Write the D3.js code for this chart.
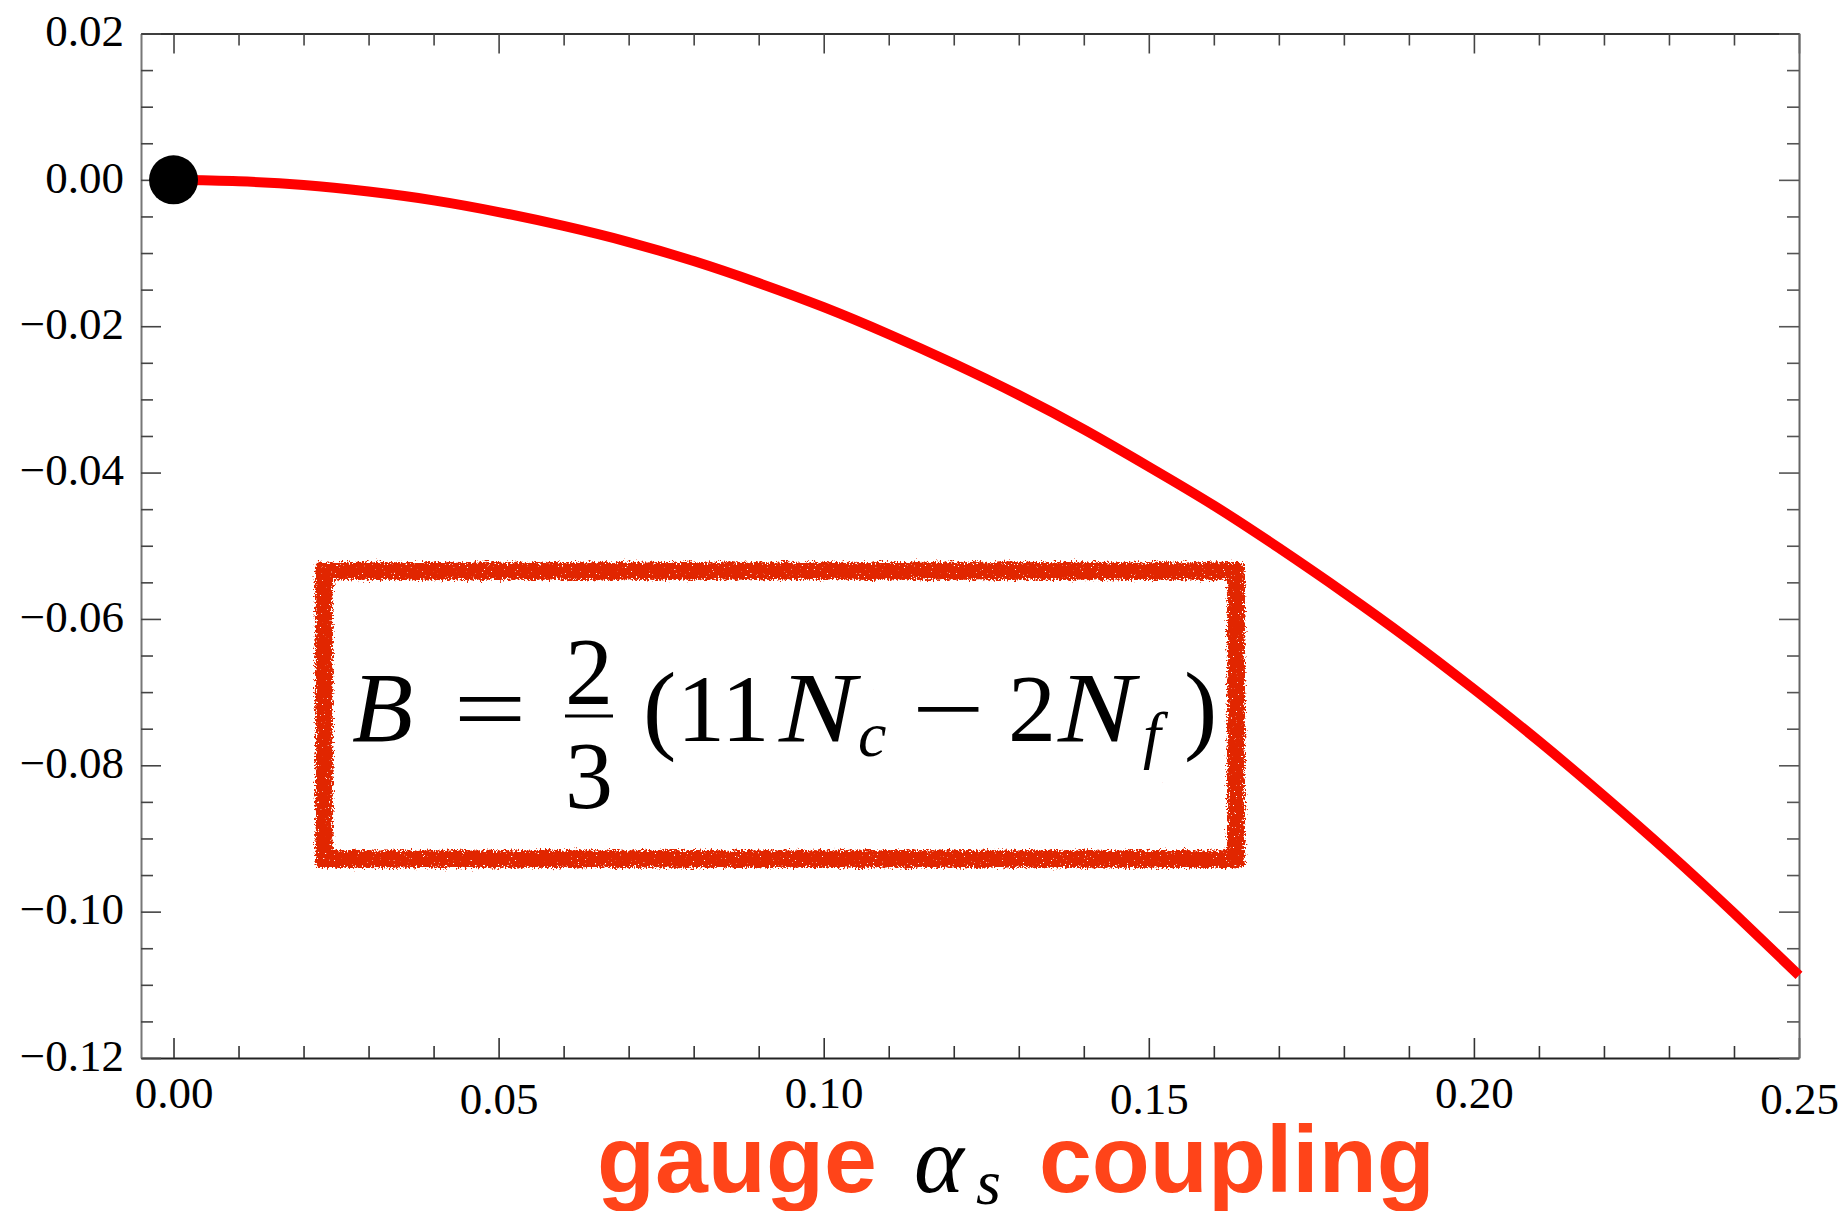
<!DOCTYPE html>
<html>
<head>
<meta charset="utf-8">
<script src="https://cdn.jsdelivr.net/npm/d3@7"></script>
<style>
  html, body { margin: 0; padding: 0; background: #fff; }
  svg { display: block; }
</style>
</head>
<body>
<svg id="chart" width="1846" height="1211"></svg>
<script>
// Running-coupling correction versus the gauge coupling alpha_s
const alphaValues = [0.00, 0.01, 0.02, 0.03, 0.04, 0.05, 0.06, 0.07, 0.08, 0.09,
                     0.10, 0.11, 0.12, 0.13, 0.14, 0.15, 0.16, 0.17, 0.18, 0.19,
                     0.20, 0.21, 0.22, 0.23, 0.24, 0.25];
const curveValues = [0.0000, -0.0002, -0.0007, -0.0016, -0.0028, -0.0044, -0.0063, -0.0085, -0.0111, -0.0141,
                     -0.0174, -0.0211, -0.0251, -0.0294, -0.0341, -0.0392, -0.0445, -0.0503, -0.0564, -0.0628,
                     -0.0696, -0.0767, -0.0842, -0.0920, -0.1002, -0.1087];

// Fixed point at the origin
const fixedPointAlpha = [0.00];
const fixedPointValue = [0.00];

// Axis ticks and labels
const xMajorTicks = [0.00, 0.05, 0.10, 0.15, 0.20, 0.25];
const xTickLabels = ["0.00", "0.05", "0.10", "0.15", "0.20", "0.25"];
const yMajorTicks = [0.02, 0.00, -0.02, -0.04, -0.06, -0.08, -0.10, -0.12];
const yTickLabels = ["0.02", "0.00", "\u22120.02", "\u22120.04", "\u22120.06", "\u22120.08", "\u22120.10", "\u22120.12"];

const xDomain = [-0.005, 0.25];
const yDomain = [-0.12, 0.02];

const svg = d3.select("#chart");
const plotLeft = 141, plotRight = 1799, plotTop = 33.5, plotBottom = 1058;

const x = d3.scaleLinear().domain(xDomain).range([plotLeft, plotRight]);
const y = d3.scaleLinear().domain(yDomain).range([plotBottom, plotTop]);

const xMinor = d3.range(0, 0.2501, 0.01).filter(v => !xMajorTicks.some(m => Math.abs(m - v) < 1e-9));
const yMinor = d3.range(-0.12, 0.0201, 0.005).filter(v => !yMajorTicks.some(m => Math.abs(m - v) < 1e-9));

// SVG filter giving the formula frame its chalky, ragged edge
const defs = svg.append("defs");
const rough = defs.append("filter").attr("id", "chalk")
  .attr("x", "-0.06").attr("y", "-0.15").attr("width", "1.12").attr("height", "1.3");
rough.append("feTurbulence").attr("type", "fractalNoise").attr("baseFrequency", "0.35")
  .attr("numOctaves", 3).attr("seed", 4).attr("result", "t1");
rough.append("feDisplacementMap").attr("in", "SourceGraphic").attr("in2", "t1")
  .attr("scale", 6).attr("xChannelSelector", "R").attr("yChannelSelector", "G").attr("result", "d1");
rough.append("feGaussianBlur").attr("in", "d1").attr("stdDeviation", 2.2).attr("result", "soft");
rough.append("feTurbulence").attr("type", "fractalNoise").attr("baseFrequency", "0.55")
  .attr("numOctaves", 2).attr("seed", 17).attr("result", "t2");
rough.append("feColorMatrix").attr("in", "t2").attr("type", "matrix")
  .attr("values", "0 0 0 0 0  0 0 0 0 0  0 0 0 0 0  1 0 0 0 0").attr("result", "grain");
rough.append("feComposite").attr("in", "soft").attr("in2", "grain").attr("operator", "arithmetic")
  .attr("k1", 0).attr("k2", 1).attr("k3", 1.4).attr("k4", -0.85).attr("result", "mix");
const ct = rough.append("feComponentTransfer").attr("in", "mix").attr("result", "edge");
ct.append("feFuncA").attr("type", "linear").attr("slope", 10).attr("intercept", -4.2);
rough.append("feFlood").attr("flood-color", "#e12800").attr("result", "ink");
rough.append("feComposite").attr("in", "ink").attr("in2", "edge").attr("operator", "in");

// Frame: ticks point inward on all four sides
const majorLen = 20, minorLen = 12;
function styleAxis(g, domainColor, tickColor) {
  g.select(".domain").attr("stroke", domainColor).attr("stroke-width", 2);
  g.selectAll(".tick line").attr("stroke", tickColor).attr("stroke-width", 1.6);
}
function bareTicks(g) {
  g.select(".domain").remove();
  g.selectAll(".tick text").remove();
}

const gBottom = svg.append("g").attr("transform", `translate(0,${plotBottom})`)
  .call(d3.axisBottom(x).tickValues(xMajorTicks).tickSize(-majorLen).tickSizeOuter(0)
    .tickPadding(18).tickFormat((d, i) => xTickLabels[i]));
styleAxis(gBottom, "#222", "#333");
gBottom.selectAll(".tick text")
  .attr("font-family", "'Liberation Serif', 'Times New Roman', serif")
  .attr("font-size", 45).attr("fill", "#000")
  .attr("dy", (d, i) => i % 2 ? "0.85em" : "0.71em");

const gBottomMinor = svg.append("g").attr("transform", `translate(0,${plotBottom})`)
  .call(d3.axisBottom(x).tickValues(xMinor).tickSize(-minorLen));
bareTicks(gBottomMinor);
styleAxis(gBottomMinor, "none", "#333");

const gTop = svg.append("g").attr("transform", `translate(0,${plotTop})`)
  .call(d3.axisTop(x).tickValues(xMajorTicks).tickSize(-majorLen).tickSizeOuter(0));
gTop.selectAll(".tick text").remove();
styleAxis(gTop, "#333", "#444");
const gTopMinor = svg.append("g").attr("transform", `translate(0,${plotTop})`)
  .call(d3.axisTop(x).tickValues(xMinor).tickSize(-minorLen));
bareTicks(gTopMinor);
styleAxis(gTopMinor, "none", "#444");

const gLeft = svg.append("g").attr("transform", `translate(${plotLeft},0)`)
  .call(d3.axisLeft(y).tickValues(yMajorTicks).tickSize(-majorLen).tickSizeOuter(0)
    .tickPadding(17).tickFormat((d, i) => yTickLabels[i]));
styleAxis(gLeft, "#777", "#444");
gLeft.selectAll(".tick text")
  .attr("font-family", "'Liberation Serif', 'Times New Roman', serif")
  .attr("font-size", 45).attr("fill", "#000").attr("dy", "0.27em");

const gLeftMinor = svg.append("g").attr("transform", `translate(${plotLeft},0)`)
  .call(d3.axisLeft(y).tickValues(yMinor).tickSize(-minorLen));
bareTicks(gLeftMinor);
styleAxis(gLeftMinor, "none", "#444");

const gRight = svg.append("g").attr("transform", `translate(${plotRight},0)`)
  .call(d3.axisRight(y).tickValues(yMajorTicks).tickSize(-majorLen).tickSizeOuter(0));
gRight.selectAll(".tick text").remove();
styleAxis(gRight, "#666", "#555");
const gRightMinor = svg.append("g").attr("transform", `translate(${plotRight},0)`)
  .call(d3.axisRight(y).tickValues(yMinor).tickSize(-minorLen));
bareTicks(gRightMinor);
styleAxis(gRightMinor, "none", "#555");

// The curve
const line = d3.line().x(d => x(d[0])).y(d => y(d[1])).curve(d3.curveNatural);
svg.append("path")
  .datum(alphaValues.map((a, i) => [a, curveValues[i]]))
  .attr("d", line)
  .attr("fill", "none").attr("stroke", "#ff0000").attr("stroke-width", 10);

// Fixed point marker
svg.selectAll("circle.fp")
  .data(fixedPointAlpha.map((a, i) => [a, fixedPointValue[i]]))
  .join("circle").attr("class", "fp")
  .attr("cx", d => x(d[0])).attr("cy", d => y(d[1])).attr("r", 24.5).attr("fill", "#000");

// Formula frame
svg.append("rect")
  .attr("x", 324).attr("y", 571).attr("width", 912).attr("height", 288)
  .attr("fill", "none").attr("stroke", "#e12800").attr("stroke-width", 19)
  .attr("filter", "url(#chalk)");

// Formula: B = 2/3 (11 N_c - 2 N_f)
const serif = "'Liberation Serif', 'Times New Roman', serif";
const fs = 96, base = 741;
const formula = svg.append("g").attr("font-family", serif).attr("fill", "#000");
function glyph(str, gx, gy, size, opts = {}) {
  const sx = opts.sx || 1;
  return formula.append("text")
    .attr("transform", `translate(${gx},${gy}) scale(${sx},1)`)
    .attr("font-size", size)
    .attr("font-style", opts.italic ? "italic" : "normal")
    .attr("text-anchor", opts.anchor || "start")
    .text(str);
}
glyph("B", 352, base, 100, { italic: true });
glyph("=", 490, base, fs, { anchor: "middle", sx: 1.35 });
glyph("2", 589, 704, fs, { anchor: "middle" });
formula.append("line").attr("x1", 565).attr("x2", 613).attr("y1", 716).attr("y2", 716)
  .attr("stroke", "#000").attr("stroke-width", 3);
glyph("3", 589, 808, fs, { anchor: "middle" });
glyph("(", 643, base, 100);
glyph("11", 677, base, fs);
glyph("N", 779, base, 100, { italic: true, sx: 1.15 });
glyph("c", 858, base + 15, 64, { italic: true });
glyph("\u2212", 948, base, fs, { anchor: "middle", sx: 1.35 });
glyph("2", 1008, base, fs);
glyph("N", 1058, base, 100, { italic: true, sx: 1.15 });
glyph("f", 1143, base + 15, 64, { italic: true });
glyph(")", 1184, base, 100);

// Axis title: "gauge α_s coupling"
const sans = "'Liberation Sans', Arial, Helvetica, sans-serif";
const titleBase = 1192;
const title = svg.append("text").attr("y", titleBase).attr("font-size", 95);
title.append("tspan").attr("x", 597).attr("font-family", sans).attr("font-weight", "bold")
  .attr("fill", "#ff4419").text("gauge");
title.append("tspan").attr("x", 914).attr("font-family", serif).attr("font-style", "italic")
  .attr("fill", "#000").text("\u03b1");
title.append("tspan").attr("x", 976).attr("y", titleBase + 12).attr("font-size", 64)
  .attr("font-family", serif).attr("font-style", "italic").attr("fill", "#000").text("s");
title.append("tspan").attr("x", 1039).attr("y", titleBase).attr("font-family", sans)
  .attr("font-weight", "bold").attr("fill", "#ff4419").text("coupling");
</script>
</body>
</html>
